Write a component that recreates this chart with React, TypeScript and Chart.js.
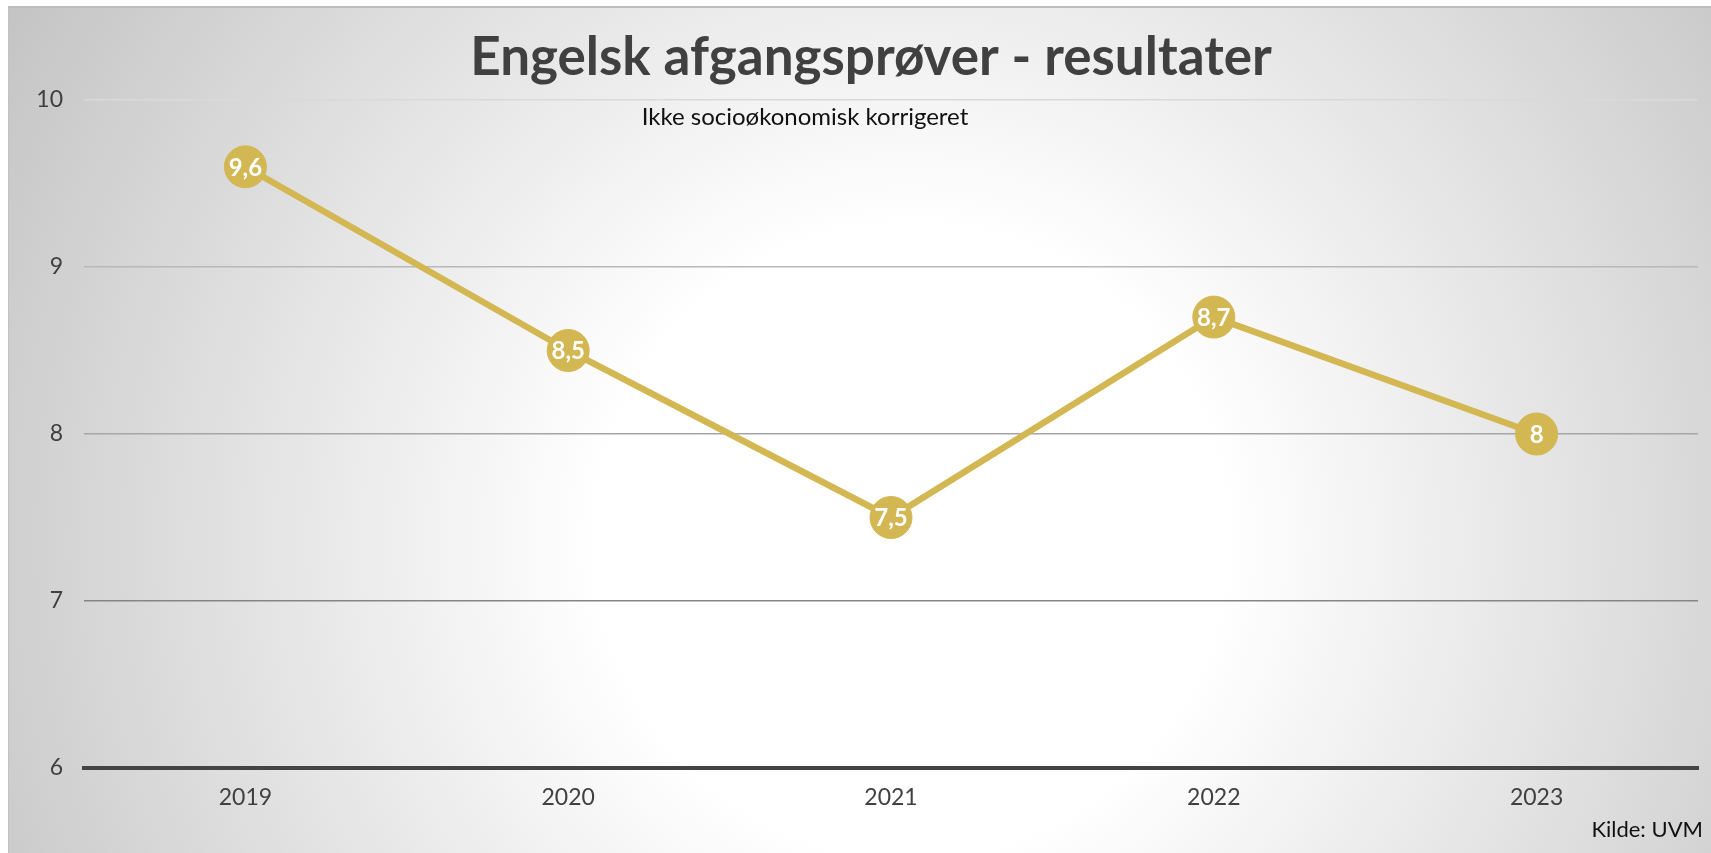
import React, { useEffect, useRef } from "react";
import { Chart, registerables } from "chart.js";

Chart.register(...registerables);

const categories = ["2019", "2020", "2021", "2022", "2023"];
const values = [9.6, 8.5, 7.5, 8.7, 8];
const yTicks = [6, 7, 8, 9, 10];
const titleText = "Engelsk afgangsprøver - resultater";
const subtitleText = "Ikke socioøkonomisk korrigeret";
const sourceText = "Kilde: UVM";

const GOLD = "#d3b753";
const FONT = "Lato, 'Open Sans', sans-serif";

const fmt = (v: number) => String(v).replace(".", ",");

const gridColors: Record<number, string> = {
  10: "#d9d9d9",
  9: "#b8b8b8",
  8: "#a6a6a6",
  7: "#858585",
  6: "rgba(0,0,0,0)",
};

const textPlugin = {
  id: "texts",
  afterDatasetsDraw(chart: any) {
    const ctx = chart.ctx;
    const meta = chart.getDatasetMeta(0);
    ctx.save();
    ctx.fillStyle = "#ffffff";
    ctx.font = `700 24px ${FONT}`;
    ctx.textAlign = "center";
    ctx.textBaseline = "middle";
    meta.data.forEach((pt: any, i: number) => {
      ctx.fillText(fmt(values[i]), pt.x, pt.y + 1);
    });
    ctx.restore();
  },
  afterDraw(chart: any) {
    const ctx = chart.ctx;
    ctx.save();
    ctx.textAlign = "center";
    ctx.textBaseline = "middle";
    ctx.fillStyle = "#404040";
    ctx.font = `700 53px ${FONT}`;
    ctx.fillText(titleText, 862, 50);
    ctx.fillStyle = "#111111";
    ctx.font = `400 24px ${FONT}`;
    ctx.fillText(subtitleText, 796, 109);
    ctx.textAlign = "right";
    ctx.font = `400 22px ${FONT}`;
    ctx.fillText(sourceText, 1694, 822);
    ctx.restore();
  },
};

export default function App() {
  const ref = useRef<HTMLCanvasElement | null>(null);

  useEffect(() => {
    if (!ref.current) return;
    const chart = new Chart(ref.current, {
      type: "line",
      data: {
        labels: categories,
        datasets: [
          {
            data: values,
            borderColor: GOLD,
            backgroundColor: GOLD,
            borderWidth: 6.5,
            pointRadius: 21,
            pointBorderWidth: 1,
            pointBackgroundColor: GOLD,
            pointBorderColor: GOLD,
            tension: 0,
            clip: false as any,
          },
        ],
      },
      options: {
        animation: false,
        responsive: true,
        maintainAspectRatio: false,
        layout: {
          autoPadding: false,
          padding: { top: 92, right: 13, left: 0, bottom: 0 },
        },
        plugins: {
          legend: { display: false },
          tooltip: { enabled: false },
          title: { display: false },
        },
        scales: {
          x: {
            offset: true,
            grid: { display: false, drawTicks: false },
            border: { display: true, color: "#444444", width: 4 },
            ticks: {
              color: "#404040",
              font: { family: FONT, size: 23 },
              padding: 16,
            },
            afterFit: (s: any) => {
              s.height = 85;
            },
          },
          y: {
            min: 6,
            max: 10,
            afterBuildTicks: (s: any) => {
              s.ticks = yTicks.map((v) => ({ value: v }));
            },
            grid: {
              drawTicks: false,
              lineWidth: 1.5,
              color: (c: any) => gridColors[c.tick?.value] ?? "#aaaaaa",
            },
            border: { display: false },
            ticks: {
              color: "#404040",
              font: { family: FONT, size: 23 },
              padding: 21,
            },
            afterFit: (s: any) => {
              s.width = 75;
            },
          },
        },
      },
      plugins: [textPlugin],
    });
    return () => chart.destroy();
  }, []);

  return (
    <div
      style={{
        position: "absolute",
        left: 8,
        top: 6,
        width: 1703,
        height: 847,
        boxSizing: "border-box",
        borderTop: "2px solid #bdbdbd",
        borderLeft: "1px solid #c2c2c2",
        background:
          "radial-gradient(circle farthest-corner at 53% 63%, #ffffff 0%, #ffffff 30%, #c4c4c4 100%)",
      }}
    >
      <div style={{ position: "relative", width: 1702, height: 845 }}>
        <canvas ref={ref} />
      </div>
    </div>
  );
}
